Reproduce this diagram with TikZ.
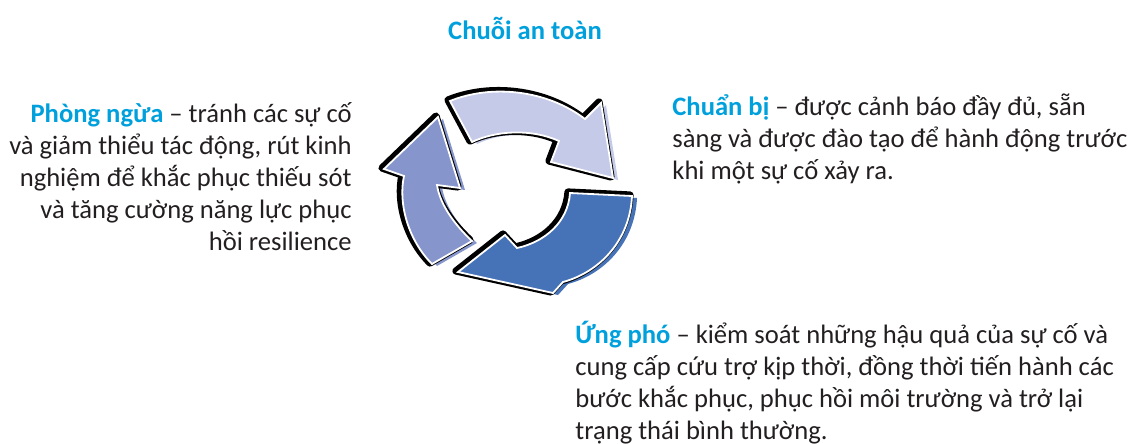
\documentclass[tikz,border=0pt]{standalone}
\usepackage{fontspec}
\setmainfont{Carlito}
\usepackage{xcolor}

\begin{document}
\begin{tikzpicture}[x=0.5pt,y=-0.5pt]
    % Define colours
    \definecolor{titleblue}{RGB}{0,160,220} % heading blue
    \definecolor{bodygrey}{RGB}{35,31,32}
    \definecolor{arrowlight}{RGB}{197,202,232} % pale lavender
    \definecolor{arrowmid}{RGB}{134,150,204}
    \definecolor{arrowdark}{RGB}{70,114,183}
    \tikzset{
        lbl/.style={font=\fontsize{13.3}{16}\selectfont, text=bodygrey, inner sep=0pt},
        rim/.style={line width=3.6pt, line join=round},
    }
    \useasboundingbox (0,0) rectangle (1130,444);

    % Arrow outlines
    \def\toparrow{(450,101) .. controls (492,84) and (547,90) .. (585,119)
        -- (601,103) -- (613,178) -- (551,162) -- (559,141)
        .. controls (530,128) and (495,131) .. (472,142) -- cycle}
    \def\leftarrow{(438,117) -- (384,169) -- (404,176)
        .. controls (398,203) and (408,240) .. (432,264)
        -- (472,241) .. controls (455,225) and (440,205) .. (437,185)
        -- (460,188) -- cycle}
    \def\bottomarrow{(458,272) -- (505,235) -- (517,248)
        .. controls (545,242) and (568,222) .. (570,193)
        -- (632,196) .. controls (630,240) and (600,272) .. (563,282)
        -- (553,293) -- cycle}
    % One arrow: coloured offset copy, black rim, white edge and fill
    \def\arrowpiece#1#2{
        \fill[#2, shift={(5,2)}] #1;
        \draw[rim, shift={(-2,-1)}] #1;
        \draw[white, line width=0.9pt, fill=#2] #1;
    }

    % 1. The three arrows of the cycle
    \arrowpiece{\toparrow}{arrowlight}
    \arrowpiece{\leftarrow}{arrowmid}
    \arrowpiece{\bottomarrow}{arrowdark}

    % 2. Heading
    \node[lbl, text=titleblue, font=\fontsize{13.3}{16}\selectfont\bfseries] (title) at (525,28) {Chuỗi an toàn};

    % 3. The three stages
    \node[lbl, align=right, anchor=north east] (prevent) at (352,102)
        {\textcolor{titleblue}{\textbf{Phòng ngừa}} – tránh các sự cố\\
         và giảm thiểu tác động, rút kinh\\
         nghiệm để khắc phục thiếu sót\\
         và tăng cường năng lực phục\\
         hồi resilience};
    \node[lbl, align=left, anchor=north west] (prepare) at (672,93)
        {\textcolor{titleblue}{\textbf{Chuẩn bị}} – được cảnh báo đầy đủ, sẵn\\
         sàng và được đào tạo để hành động trước\\
         khi một sự cố xảy ra.};
    \node[lbl, align=left, anchor=north west] (respond) at (575,321)
        {\textcolor{titleblue}{\textbf{Ứng phó}} – kiểm soát những hậu quả của sự cố và\\
         cung cấp cứu trợ kịp thời, đồng thời tiến hành các\\
         bước khắc phục, phục hồi môi trường và trở lại\\
         trạng thái bình thường.};
\end{tikzpicture}
\end{document}
